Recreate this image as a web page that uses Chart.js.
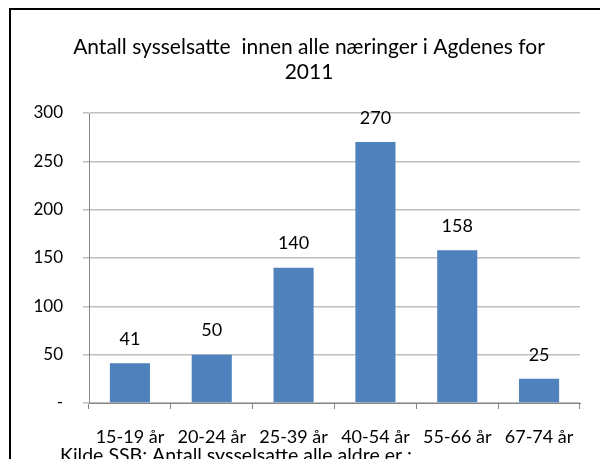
<!DOCTYPE html>
<html>
<head>
<meta charset="utf-8">
<script src="https://cdn.jsdelivr.net/npm/chart.js@4.4.0/dist/chart.umd.min.js"></script>
<style>
  html, body { margin: 0; padding: 0; background: #fff; }
  #wrap { width: 600px; height: 459px; position: relative; }
</style>
</head>
<body>
<div id="wrap"><canvas id="myChart" width="600" height="459"></canvas></div>
<script>
"use strict";

/* Data */
const categories = ['15-19 år', '20-24 år', '25-39 år', '40-54 år', '55-66 år', '67-74 år'];
const employed = [41, 50, 140, 270, 158, 25];
const titleLines = ['Antall sysselsatte  innen alle næringer i Agdenes for', '2011'];
const footnote = 'Kilde SSB: Antall sysselsatte alle aldre er :';

const fontFamily = 'Lato, "Liberation Sans", sans-serif';

// frame, title, value labels and source line
const extras = {
    id: 'extras',
    beforeDraw(chart) {
        const ctx = chart.ctx;
        ctx.save();
        ctx.fillStyle = '#fff';
        ctx.fillRect(0, 0, chart.width, chart.height);
        ctx.strokeStyle = '#000';
        ctx.lineWidth = 2;
        ctx.beginPath();
        ctx.moveTo(10, 470);
        ctx.lineTo(10, 9);
        ctx.lineTo(610, 9);
        ctx.stroke();

        // chart title
        ctx.font = '21px ' + fontFamily;
        ctx.fillStyle = '#000';
        ctx.textAlign = 'center';
        ctx.textBaseline = 'middle';
        ctx.fillText(titleLines[0], 309, 47);
        ctx.fillText(titleLines[1], 309, 72);
        ctx.restore();
    },
    afterDatasetsDraw(chart) {
        const ctx = chart.ctx;
        const meta = chart.getDatasetMeta(0);
        ctx.save();
        ctx.font = '18px ' + fontFamily;
        ctx.fillStyle = '#000';
        ctx.textAlign = 'center';
        ctx.textBaseline = 'middle';
        meta.data.forEach(function (bar, i) {
            ctx.fillText(employed[i], bar.x, bar.y - 24);
        });
        ctx.font = '19.5px ' + fontFamily;
        ctx.textAlign = 'left';
        ctx.textBaseline = 'alphabetic';
        ctx.fillText(footnote, 60, 462);
        ctx.restore();
    }
};

const data = {
    labels: categories,
    datasets: [{
        data: employed,
        backgroundColor: '#4f81bd',
        borderWidth: 0,
        barPercentage: 0.49,
        categoryPercentage: 1
    }]
};

const config = {
    type: 'bar',
    data: data,
    options: {
        responsive: false,
        animation: false,
        layout: { padding: { top: 113, right: 20, left: 0, bottom: 0 } },
        plugins: {
            legend: { display: false },
            tooltip: { enabled: false },
            title: { display: false }
        },
        scales: {
            x: {
                grid: { offset: true, drawOnChartArea: false, drawTicks: true, tickLength: 6, color: '#868686' },
                border: { color: '#868686' },
                ticks: { color: '#000', font: { family: fontFamily, size: 18 }, padding: 17, maxRotation: 0 },
                afterFit(scale) { scale.height = 56; }
            },
            y: {
                min: 0,
                max: 300,
                grid: { color: '#bfbfbf', tickLength: 6, lineWidth: 1.5 },
                border: { color: '#868686' },
                ticks: {
                    stepSize: 50,
                    color: '#000',
                    font: { family: fontFamily, size: 17 },
                    padding: 20,
                    callback: function (v) { return v === 0 ? '-' : v; }
                },
                afterFit(scale) { scale.width = 89; }
            }
        }
    },
    plugins: [extras]
};

const myChart = new Chart(document.getElementById('myChart'), config);
</script>
</body>
</html>
